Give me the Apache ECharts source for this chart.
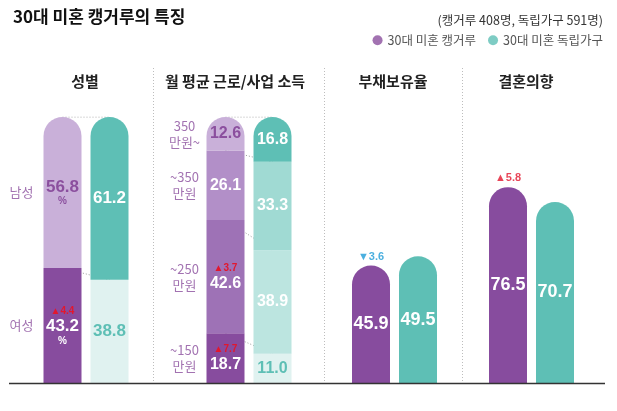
<!DOCTYPE html>
<html><head><meta charset="utf-8">
<script src="https://cdn.jsdelivr.net/npm/echarts@6/dist/echarts.min.js"></script>
<style>html,body{margin:0;padding:0;background:#fff}#c{width:617px;height:411px}</style>
</head><body><div id="c"></div>
<script>
// ---- data ----
const groups = ['30대 미혼 캥거루', '30대 미혼 독립가구'];
const panelTitles = ['성별', '월 평균 근로/사업 소득', '부채보유율', '결혼의향'];
const genderLabels = ['여성', '남성'];
const genderKangaroo = [43.2, 56.8];
const genderIndep = [38.8, 61.2];
const genderDelta = ['▲4.4', ''];
const incomeLabels = ['~150\n만원', '~250\n만원', '~350\n만원', '350\n만원~'];
const incomeKangaroo = [18.7, 42.6, 26.1, 12.6];
const incomeIndep = [11.0, 38.9, 33.3, 16.8];
const incomeDelta = ['▲7.7', '▲3.7', '', ''];
const debtValues = [45.9, 49.5];
const debtDelta = '▼3.6';
const marriageValues = [76.5, 70.7];
const marriageDelta = '▲5.8';
const mainTitle = '30대 미혼 캥거루의 특징';
const subTitle = '(캥거루 408명, 독립가구 591명)';

// ---- styles ----
const PURPLE = '#874C9E', TEAL = '#5EBFB5';
const FONT = "'Noto Sans CJK KR', sans-serif";
const NUMFONT = "'Liberation Sans', Arial, sans-serif";
const genderKColors = [PURPLE, '#C9B0D9'];
const genderIColors = ['#E0F2F0', TEAL];
const genderKText = ['#fff', '#8B4F9E'];
const genderIText = [TEAL, '#fff'];
const incomeKColors = [PURPLE, '#9E72B6', '#B28FC8', '#C9B0D9'];
const incomeIColors = ['#E0F2F0', '#BCE5E0', '#A0DAD3', TEAL];
const incomeKText = ['#fff', '#fff', '#fff', '#8B4F9E'];
const incomeIText = [TEAL, '#fff', '#fff', '#fff'];

const grids = [
  {left: 39, top: 117, width: 94, height: 266},
  {left: 202, top: 117, width: 94, height: 266},
  {left: 347.5, top: 127, width: 94, height: 256},
  {left: 484.5, top: 127, width: 94, height: 256}
];
const xAxes = grids.map((g, i) => ({type: 'category', gridIndex: i, data: groups, show: false}));
const yAxes = grids.map((g, i) => ({type: 'value', gridIndex: i, min: 0, max: 100, show: false}));

function richLabel(color, fontSize) {
  return {
    v: {fontFamily: NUMFONT, fontWeight: 'bold', fontSize: fontSize, color: color, lineHeight: fontSize + 1},
    d: {fontFamily: NUMFONT, fontWeight: 'bold', fontSize: 10, color: '#E2172E', lineHeight: 13},
    p: {fontFamily: NUMFONT, fontWeight: 'bold', fontSize: 10, color: color, lineHeight: 11}
  };
}

const series = [];
function stacked(g, names, kv, iv, kc, ic, kt, it, deltas, pct, fs) {
  const n = kv.length;
  for (let j = 0; j < n; j++) {
    const radius = j === n - 1 ? [19, 19, 0, 0] : 0;
    const mk = (val, col, tcol, isK) => ({
      value: val,
      itemStyle: {color: col, borderRadius: radius},
      label: {
        show: true, position: 'inside',
        formatter: (isK && deltas[j] ? '{d|' + deltas[j] + '}\n' : '') + '{v|' + val.toFixed(1) + '}' + (isK && pct ? '\n{p|%}' : ''),
        rich: richLabel(tcol, fs)
      }
    });
    series.push({
      type: 'bar', name: names[j].replace('\n', ' '), xAxisIndex: g, yAxisIndex: g, stack: 's' + g,
      barWidth: 38, z: 3, silent: true,
      data: [mk(kv[j], kc[j], kt[j], true), mk(iv[j], ic[j], it[j], false)]
    });
  }
  // connectors and side labels
  let ck = 0, ci = 0;
  for (let j = 0; j < n; j++) {
    const mid = ck + kv[j] / 2;
    series.push({
      type: 'scatter', xAxisIndex: g, yAxisIndex: g, symbolSize: 1, silent: true,
      itemStyle: {color: 'rgba(0,0,0,0)'},
      data: [{value: [0, mid]}],
      label: {show: true, position: 'inside', offset: [-41, 0], formatter: names[j], color: '#8B4F9E',
        fontFamily: FONT, fontSize: 13, lineHeight: 16, align: 'center'}
    });
    ck += kv[j]; ci += iv[j];
    series.push({
      type: 'line', xAxisIndex: g, yAxisIndex: g, z: 1, symbol: 'none', silent: true,
      lineStyle: {color: '#9a9a9a', width: 1, type: [1, 2]},
      data: [ck, ci]
    });
  }
}
stacked(0, genderLabels, genderKangaroo, genderIndep, genderKColors, genderIColors, genderKText, genderIText, genderDelta, true, 17);
stacked(1, incomeLabels, incomeKangaroo, incomeIndep, incomeKColors, incomeIColors, incomeKText, incomeIText, incomeDelta, false, 16);

function simple(g, name, vals, delta, deltaColor) {
  series.push({
    type: 'bar', name: name, xAxisIndex: g, yAxisIndex: g, barWidth: 38, silent: true,
    itemStyle: {borderRadius: [19, 19, 0, 0]},
    data: vals.map((v, k) => ({value: v, itemStyle: {color: k === 0 ? PURPLE : TEAL}})),
    label: {show: true, position: 'inside', formatter: p => p.value.toFixed(1),
      fontFamily: NUMFONT, fontWeight: 'bold', fontSize: 18, color: '#fff'}
  });
  series.push({
    type: 'scatter', xAxisIndex: g, yAxisIndex: g, symbolSize: 1, silent: true,
    itemStyle: {color: 'rgba(0,0,0,0)'},
    data: [{value: [0, vals[0]]}],
    label: {show: true, position: 'top', distance: 3, formatter: delta, color: deltaColor,
      fontFamily: NUMFONT, fontWeight: 'bold', fontSize: 11}
  });
}
simple(2, panelTitles[2], debtValues, debtDelta, '#1E9BD7');
simple(3, panelTitles[3], marriageValues, marriageDelta, '#E2172E');

// legend carriers
series.push({type: 'scatter', name: groups[0], xAxisIndex: 0, yAxisIndex: 0, data: [], itemStyle: {color: '#8B4F9E'}});
series.push({type: 'scatter', name: groups[1], xAxisIndex: 0, yAxisIndex: 0, data: [], itemStyle: {color: TEAL}});

const headerX = [85, 235, 393, 526];
const graphic = [
  {type: 'line', shape: {x1: 9, y1: 383.5, x2: 605, y2: 383.5}, style: {stroke: '#333', lineWidth: 1.5}, z: 10}
];
[153, 324, 462].forEach(x => graphic.push({type: 'line', shape: {x1: x + 0.5, y1: 68, x2: x + 0.5, y2: 383}, style: {stroke: '#bdbdbd', lineWidth: 1, lineDash: [1, 2]}}));
panelTitles.forEach((t, i) => graphic.push({type: 'text', x: headerX[i], y: 81,
  style: {text: t, align: 'center', verticalAlign: 'middle', font: "bold 15px 'Noto Sans CJK KR', sans-serif", fill: '#222'}}));

const chart = echarts.init(document.getElementById('c'), null, {renderer: 'canvas'});
chart.setOption({
  animation: false,
  backgroundColor: '#fff',
  title: [
    {text: mainTitle, left: 8, top: 3, textStyle: {fontFamily: FONT, fontSize: 17, fontWeight: 'bold', color: '#111'}},
    {text: subTitle, right: 9, top: 9, textStyle: {fontFamily: FONT, fontSize: 12.5, fontWeight: 'normal', color: '#333'}}
  ],
  legend: {
    right: 9, top: 29, icon: 'circle', itemWidth: 10, itemHeight: 10, itemGap: 12,
    data: [{name: groups[0], itemStyle: {color: '#8B4F9E'}}, {name: groups[1], itemStyle: {color: TEAL}}],
    textStyle: {fontFamily: FONT, fontSize: 12.5, color: '#555'}, selectedMode: false
  },
  grid: grids, xAxis: xAxes, yAxis: yAxes, series: series, graphic: graphic
});
</script></body></html>
